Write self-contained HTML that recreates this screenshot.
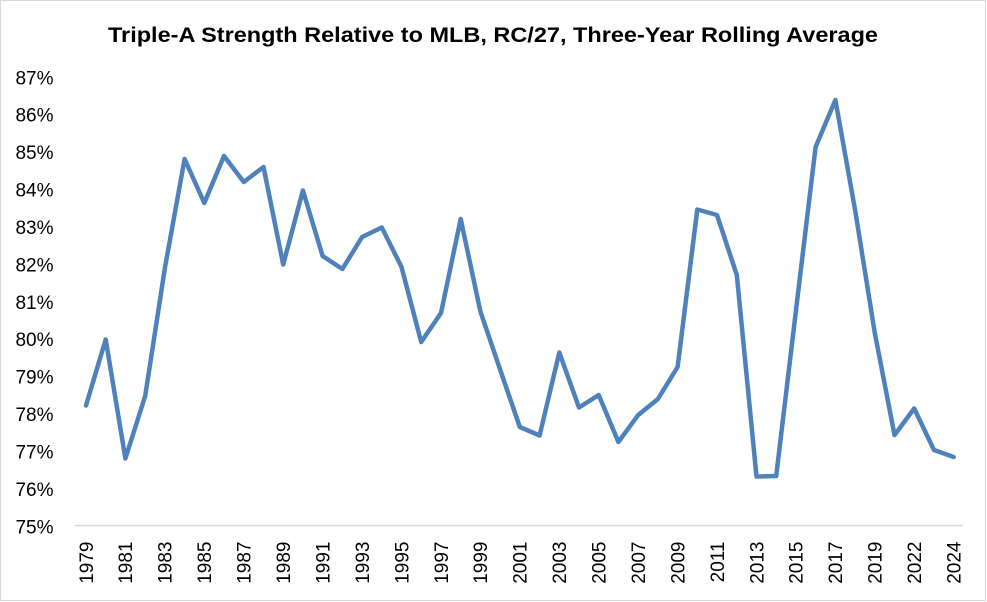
<!DOCTYPE html>
<html>
<head>
<meta charset="utf-8">
<style>
html,body{margin:0;padding:0;background:#fff;}
svg{display:block;}
text{font-family:"Liberation Sans",Arial,sans-serif;fill:#000;}
</style>
</head>
<body>
<svg width="987" height="602" viewBox="0 0 987 602" xmlns="http://www.w3.org/2000/svg">
<rect x="0" y="0" width="987" height="602" fill="#fff"/>
<rect x="0.5" y="0.5" width="985" height="600" fill="none" stroke="#d9d9d9" stroke-width="1"/>
<text x="108" y="42" font-size="21.5" font-weight="bold" textLength="770" lengthAdjust="spacingAndGlyphs">Triple-A Strength Relative to MLB, RC/27, Three-Year Rolling Average</text>
<g font-size="19" text-anchor="end">
<text x="53.5" y="84.3">87%</text>
<text x="53.5" y="121.7">86%</text>
<text x="53.5" y="159.1">85%</text>
<text x="53.5" y="196.6">84%</text>
<text x="53.5" y="234.0">83%</text>
<text x="53.5" y="271.4">82%</text>
<text x="53.5" y="308.8">81%</text>
<text x="53.5" y="346.2">80%</text>
<text x="53.5" y="383.7">79%</text>
<text x="53.5" y="421.1">78%</text>
<text x="53.5" y="458.5">77%</text>
<text x="53.5" y="495.9">76%</text>
<text x="53.5" y="533.3">75%</text>
</g>
<line x1="75" y1="525.5" x2="963" y2="525.5" stroke="#d9d9d9" stroke-width="1.5"/>
<g font-size="19" text-anchor="end">
<text transform="translate(92.8,541.5) rotate(-90)">1979</text>
<text transform="translate(132.2,541.5) rotate(-90)">1981</text>
<text transform="translate(171.7,541.5) rotate(-90)">1983</text>
<text transform="translate(211.1,541.5) rotate(-90)">1985</text>
<text transform="translate(250.6,541.5) rotate(-90)">1987</text>
<text transform="translate(290.0,541.5) rotate(-90)">1989</text>
<text transform="translate(329.4,541.5) rotate(-90)">1991</text>
<text transform="translate(368.9,541.5) rotate(-90)">1993</text>
<text transform="translate(408.3,541.5) rotate(-90)">1995</text>
<text transform="translate(447.8,541.5) rotate(-90)">1997</text>
<text transform="translate(487.2,541.5) rotate(-90)">1999</text>
<text transform="translate(526.6,541.5) rotate(-90)">2001</text>
<text transform="translate(566.1,541.5) rotate(-90)">2003</text>
<text transform="translate(605.5,541.5) rotate(-90)">2005</text>
<text transform="translate(645.0,541.5) rotate(-90)">2007</text>
<text transform="translate(684.4,541.5) rotate(-90)">2009</text>
<text transform="translate(723.8,541.5) rotate(-90)">2011</text>
<text transform="translate(763.3,541.5) rotate(-90)">2013</text>
<text transform="translate(802.7,541.5) rotate(-90)">2015</text>
<text transform="translate(842.2,541.5) rotate(-90)">2017</text>
<text transform="translate(881.6,541.5) rotate(-90)">2019</text>
<text transform="translate(921.0,541.5) rotate(-90)">2022</text>
<text transform="translate(960.5,541.5) rotate(-90)">2024</text>
</g>
<polyline fill="none" stroke="#4f81bd" stroke-width="4.5" stroke-linejoin="round" stroke-linecap="round" points="
86.0,405.5 105.7,339.5 125.4,458.5 145.2,396 164.9,268 184.6,159 204.3,203 224.0,156 243.8,182 263.5,167
283.2,264.5 302.9,190.5 322.6,256 342.4,269 362.1,237 381.8,227.5 401.5,267 421.2,342 441.0,313 460.7,219
480.4,311.5 500.1,369.5 519.8,427 539.6,435.5 559.3,352.5 579.0,407.5 598.7,395 618.4,442 638.2,415 657.9,399
677.6,367 697.3,209.5 717.0,215 736.8,275 756.5,476.5 776.2,476 795.9,311 815.6,147 835.4,100 855.1,210
874.8,333 894.5,435 914.2,408.5 934.0,450 953.7,457"/>
</svg>
</body>
</html>
